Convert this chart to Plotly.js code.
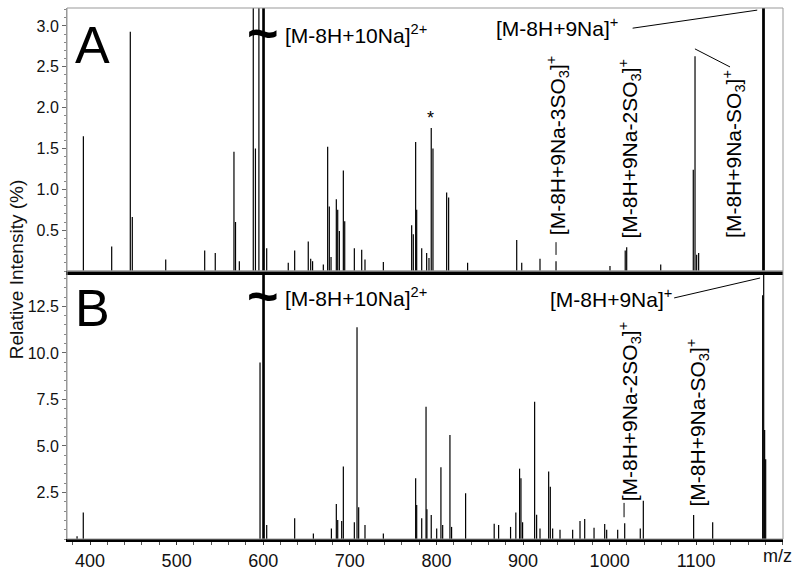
<!DOCTYPE html>
<html>
<head>
<meta charset="utf-8">
<script src="https://cdn.plot.ly/plotly-3.0.1.min.js"></script>
<style>
  html, body { margin: 0; padding: 0; background: #fff; }
  #chart { width: 800px; height: 570px; }
</style>
</head>
<body>
<div id="chart"></div>
<script>
// Panel A spectrum: m/z positions and relative intensity (%)
var mzA = [392.3, 425, 446.5, 448.8, 487.4, 532.4, 544.6, 566.2, 568, 572.4,
    588.5, 591, 595, 599.6, 600.1, 600.6, 601.1, 604, 628.9, 636.3, 652, 654.8, 657,
    669.4, 674.4, 676.3, 678.3, 684.4, 686, 687.9, 692.5, 694.1, 705.2, 713.7, 717.5,
    738.7, 771.4, 773.3, 776, 777.2, 783, 788.7, 791.4, 794, 796, 811.8, 814.1, 836,
    892.7, 898.5, 919.6, 938.1, 1000.4, 1018, 1019.7, 1059, 1096.6, 1098.6, 1100.5,
    1102.8, 1176.8, 1177.6, 1178.6];
var intA = [1.65, 0.30, 2.93, 0.66, 0.14, 0.25, 0.22, 1.46, 0.60, 0.12,
    60, 1.50, 60, 70, 100, 90, 60, 0.28, 0.10, 0.25, 0.36, 0.15, 0.12,
    0.08, 1.52, 0.79, 0.17, 0.88, 0.75, 0.49, 1.23, 0.61, 0.28, 0.26, 0.14,
    0.11, 0.56, 0.45, 1.58, 0.75, 0.28, 0.22, 0.16, 1.75, 1.50, 0.96, 0.90, 0.10,
    0.38, 0.10, 0.15, 0.12, 0.06, 0.25, 0.29, 0.08, 1.24, 2.63, 0.20,
    0.22, 100, 80, 50];

// Panel B spectrum
var mzB = [385, 392.2, 596.3, 599.6, 600.1, 600.6, 601.1, 604, 636.3, 657.9,
    678.7, 684.4, 686, 690.6, 692.5, 705.2, 708.3, 710.2, 717.5, 738.7,
    776, 777.2, 783, 788, 789, 794, 800.3, 805.2, 807.2, 815.6, 817.5, 833.7,
    866.7, 871.8, 885.6, 891.7, 896, 897.6, 899.5, 913.4, 915.7, 919.6, 929.6,
    931.5, 934.2, 942.7, 957.3, 965.8, 971.2, 982, 994.3, 996.6, 1009.3, 1017.4,
    1035.4, 1038.9, 1097, 1119, 1176.7, 1177.9, 1179, 1180.2];
var intB = [0.15, 1.43, 9.48, 80, 100, 70, 40, 0.75, 1.11, 0.30,
    0.57, 1.88, 1.02, 0.97, 3.89, 0.90, 11.38, 1.70, 0.75, 0.30,
    3.26, 1.83, 1.11, 7.11, 1.6, 1.29, 0.57, 3.85, 0.75, 5.59, 0.65, 2.46,
    0.82, 0.75, 0.65, 1.42, 3.78, 3.26, 0.90, 7.38, 1.30, 0.57, 3.62,
    2.81, 0.57, 0.50, 0.50, 0.97, 1.08, 0.60, 0.80, 0.50, 0.50, 0.85,
    0.57, 2.06, 1.29, 0.90, 13.1, 100, 5.86, 4.28];

var xTicks = [400, 500, 600, 700, 800, 900, 1000, 1100];
var yTicksA = [0.5, 1.0, 1.5, 2.0, 2.5, 3.0];
var yTicksB = [2.5, 5.0, 7.5, 10.0, 12.5];

// turn peak lists into vertical sticks from the baseline
function sticks(mz, inten) {
    var xs = [], ys = [];
    for (var i = 0; i < mz.length; i++) {
        xs.push(mz[i], mz[i], null);
        ys.push(0, inten[i], null);
    }
    return { x: xs, y: ys };
}

var sA = sticks(mzA, intA);
var sB = sticks(mzB, intB);

var traceA = {
    x: sA.x, y: sA.y, xaxis: 'x2', yaxis: 'y2',
    type: 'scatter', mode: 'lines', connectgaps: false,
    line: { color: '#000', width: 1.2 }, hoverinfo: 'skip'
};
var traceB = {
    x: sB.x, y: sB.y, xaxis: 'x', yaxis: 'y',
    type: 'scatter', mode: 'lines', connectgaps: false,
    line: { color: '#000', width: 1.2 }, hoverinfo: 'skip'
};

var FONT = 'Liberation Sans, Arial, Helvetica, sans-serif';
var split = 0.5047;

function fmt(v) { return v.toFixed(1); }

function label(text, x, y, opts) {
    var a = {
        text: text, xref: 'paper', yref: 'paper', x: x, y: y, showarrow: false,
        xanchor: 'center', yanchor: 'middle',
        font: { size: 21, family: FONT, color: '#000' }
    };
    for (var k in opts) a[k] = opts[k];
    return a;
}

function seg(x0, y0, x1, y1) {
    return { type: 'line', xref: 'paper', yref: 'paper', x0: x0, y0: y0, x1: x1, y1: y1, line: { color: '#000', width: 1 } };
}

var layout = {
    width: 800, height: 570,
    margin: { l: 67, r: 17, t: 8, b: 31 },
    paper_bgcolor: '#fff', plot_bgcolor: '#fff',
    showlegend: false,
    font: { family: FONT, size: 18, color: '#111' },
    xaxis: {
        domain: [0, 1], range: [373.4, 1200.2], anchor: 'y',
        tickmode: 'array', tickvals: xTicks,
        ticks: 'outside', ticklen: 3, tickcolor: '#333',
        minor: { ticks: 'outside', ticklen: 3, tickmode: 'linear', tick0: 0, dtick: 20, tickcolor: '#555' },
        showline: true, linecolor: '#000', linewidth: 3,
        showgrid: false, zeroline: false,
        tickfont: { size: 18, family: FONT, color: '#111' }
    },
    xaxis2: {
        domain: [0, 1], matches: 'x', anchor: 'y2',
        showticklabels: false, ticks: '',
        showline: true, linecolor: '#000', linewidth: 4,
        showgrid: false, zeroline: false
    },
    yaxis: {
        domain: [0, split], range: [0, 14.4], anchor: 'x',
        tickmode: 'array', tickvals: yTicksB, ticktext: yTicksB.map(fmt),
        ticks: 'outside', ticklen: 4, tickcolor: '#666',
        minor: { ticks: 'outside', ticklen: 2, tickmode: 'linear', tick0: 0, dtick: 0.5, tickcolor: '#888' },
        showline: true, linecolor: '#999', linewidth: 1,
        showgrid: false, zeroline: false,
        tickfont: { size: 16, family: FONT, color: '#111' }
    },
    yaxis2: {
        domain: [split, 1], range: [0, 3.22], anchor: 'x2',
        tickmode: 'array', tickvals: yTicksA, ticktext: yTicksA.map(fmt),
        ticks: 'outside', ticklen: 4, tickcolor: '#666',
        minor: { ticks: 'outside', ticklen: 2, tickmode: 'linear', tick0: 0, dtick: 0.1, tickcolor: '#888' },
        showline: true, linecolor: '#999', linewidth: 1,
        showgrid: false, zeroline: false,
        tickfont: { size: 16, family: FONT, color: '#111' }
    },
    shapes: [
        // panel frames
        { type: 'rect', xref: 'paper', yref: 'paper', x0: 0, x1: 1, y0: split, y1: 1, line: { color: '#999', width: 1 } },
        { type: 'rect', xref: 'paper', yref: 'paper', x0: 0, x1: 1, y0: 0, y1: split, line: { color: '#999', width: 1 } },
        // label connectors
        seg(0.790, 0.962, 0.964, 0.996),
        seg(0.877, 0.923, 0.926, 0.889),
        seg(0.683, 0.559, 0.683, 0.535),
        seg(0.848, 0.454, 0.968, 0.4915),
        seg(0.778, 0.068, 0.778, 0.041)
    ],
    annotations: [
        label('A', 0.035, 0.930, { font: { size: 52, family: FONT, color: '#000' } }),
        label('B', 0.035, 0.435, { font: { size: 52, family: FONT, color: '#000' } }),
        label('<b>~</b>', 0.274, 0.953, { font: { size: 54, family: FONT, color: '#000' } }),
        label('<b>~</b>', 0.274, 0.458, { font: { size: 54, family: FONT, color: '#000' } }),
        label('[M-8H+10Na]<sup>2+</sup>', 0.3017, 0.951, { xanchor: 'left' }),
        label('[M-8H+10Na]<sup>2+</sup>', 0.3017, 0.456, { xanchor: 'left' }),
        label('[M-8H+9Na]<sup>+</sup>', 0.596, 0.964, { xanchor: 'left' }),
        label('[M-8H+9Na]<sup>+</sup>', 0.672, 0.454, { xanchor: 'left' }),
        label('[M-8H+9Na-3SO<sub>3</sub>]<sup>+</sup>', 0.686, 0.742, { textangle: -90 }),
        label('[M-8H+9Na-2SO<sub>3</sub>]<sup>+</sup>', 0.786, 0.735, { textangle: -90 }),
        label('[M-8H+9Na-SO<sub>3</sub>]<sup>+</sup>', 0.930, 0.725, { textangle: -90 }),
        label('[M-8H+9Na-2SO<sub>3</sub>]<sup>+</sup>', 0.786, 0.240, { textangle: -90 }),
        label('[M-8H+9Na-SO<sub>3</sub>]<sup>+</sup>', 0.881, 0.219, { textangle: -90 }),
        label('*', 0.508, 0.793, { font: { size: 18, family: FONT, color: '#000' } }),
        label('Relative Intensity (%)', -0.0712, 0.508, { textangle: -90, font: { size: 19, family: FONT, color: '#111' } }),
        label('m/z', 0.992, -0.032, { font: { size: 18, family: FONT, color: '#111' } })
    ]
};

Plotly.newPlot('chart', [traceB, traceA], layout, { displayModeBar: false, staticPlot: true });
</script>
</body>
</html>
